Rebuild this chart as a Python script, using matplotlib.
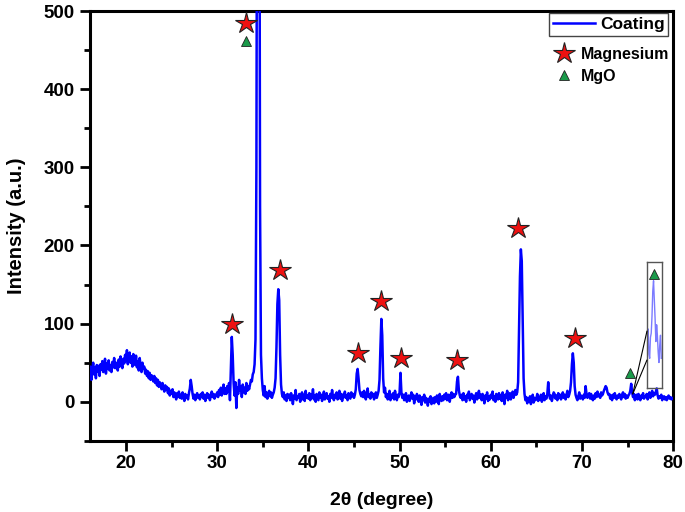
"""
XRD pattern of the coating - Mg / MgO peaks
"""
import numpy as np
import matplotlib
matplotlib.use('Agg')
import matplotlib.pyplot as plt
from matplotlib.lines import Line2D
from matplotlib.patches import ConnectionPatch

plt.rcParams['font.family'] = ['Liberation Sans', 'DejaVu Sans']

# 2theta grid of the scan (0.1 deg step), intensities
two_theta = np.linspace(16, 80, 641)
intensity = [
    32, 45, 28, 40, 50, 35, 44, 30, 47, 39,        # 16
    46, 33, 48, 41, 52, 38, 45, 55, 36, 49,        # 17
    42, 53, 40, 47, 38, 51, 44, 56, 43, 50,        # 18
    47, 40, 54, 45, 58, 48, 43, 55, 49, 60,        # 19
    52, 66, 48, 57, 63, 50, 58, 45, 61, 53,        # 20
    47, 59, 44, 52, 40, 56, 46, 38, 50, 42,        # 21
    45, 36, 41, 33, 39, 30, 37, 28, 34, 31,        # 22
    26, 33, 24, 30, 21, 28, 19, 25, 22, 16,        # 23
    24, 18, 13, 21, 15, 19, 11, 17, 8, 14,         # 24
    10, 16, 6, 12, 9, 3, 11, 7, 13, 5,             # 25
    9, 4, 12, 6, 1, 10, 5, 8, 3, 11,               # 26
    17, 28, 20, 10, 4, 9, 2, 7, 11, 5,             # 27
    8, 3, 10, 6, 12, 4, 9, 1, 7, 11,               # 28
    5, 9, 2, 8, 13, 6, 10, 4, 9, 7,                # 29
    12, 6, 15, 9, 18, 8, 14, 22, 10, 17,           # 30
    10, 20, 13, 24, 2, 45, 83, 60, 24, 8,          # 31
    25, -8, 18, 10, 28, 14, 20, 6, 22, 12,         # 32
    18, 10, 24, 14, 20, 16, 22, 28, 26, 35,        # 33
    38, 48, 80, 300, 900, 1200, 900, 250, 60, 30,  # 34
    15, 8, 20, 6, 12, 4, 10, 14, 7, 12,            # 35
    5, 9, 12, 18, 30, 70, 125, 144, 130, 60,       # 36
    22, 10, 6, 12, 3, 8, 1, 10, 5, 9,              # 37
    2, 11, 6, -3, 8, 4, 15, 2, 7, 5,               # 38
    10, 0, 6, 12, 3, 9, 1, 14, 5, 8,               # 39
    4, 11, 2, 9, 5, 16, 3, 8, 0, 10,               # 40
    6, 2, 12, 5, 9, 1, 7, 13, 3, 8,                # 41
    11, 4, 7, 0, 10, 5, 15, 6, 2, 9,               # 42
    5, 12, 3, 8, 14, 4, 10, 1, 9, 6,               # 43
    13, 5, 8, 2, 11, 6, 4, 12, 7, 10,              # 44
    5, 9, 16, 36, 42, 30, 15, 10, 7, 12,           # 45
    6, 14, 8, 3, 11, 17, 6, 9, 4, 12,              # 46
    7, 10, 3, 8, 12, 5, 9, 14, 28, 70,             # 47
    106, 85, 30, 12, 18, 6, 10, 3, 8, 14,          # 48
    2, 9, 5, 11, 3, 14, 7, 2, 9, 6,                # 49
    12, 37, 12, 5, 9, 2, 7, 11, 0, 6,              # 50
    8, 1, 6, 12, 4, 9, -2, 7, 3, 10,               # 51
    5, 0, 8, 3, -4, 6, 2, 9, -1, 5,                # 52
    3, -5, 4, 0, 7, -3, 2, 5, -2, 6,               # 53
    0, 8, 3, -3, 10, 4, 1, 7, 2, 9,                # 54
    4, 11, 2, 6, 9, 0, 7, 12, 5, 10,               # 55
    6, 9, 10, 26, 32, 15, 8, 5, 9, 2,              # 56
    11, 3, 7, 0, 9, 5, 13, 2, 6, 10,               # 57
    4, 8, -1, 6, 11, 3, 7, 14, 5, 9,               # 58
    2, 10, 6, -2, 8, 4, 12, 1, 7, 3,               # 59
    9, 5, 13, 2, 7, 0, 10, 6, 3, 11,               # 60
    4, 8, 1, 12, 6, -3, 9, 5, 14, 2,               # 61
    7, 11, 3, 8, 13, 5, 10, 15, 9, 12,             # 62
    25, 90, 160, 195, 180, 105, 30, 10, 2, 6,      # 63
    -2, 4, 0, 7, -3, 3, 9, -1, 5, 2,               # 64
    4, 10, 1, 6, 3, 9, 0, 5, 11, 2,                # 65
    7, 4, 10, 25, 9, 4, 8, 1, 6, 12,               # 66
    10, 4, 8, 2, 11, 5, 9, 3, 7, 12,               # 67
    5, 9, 3, 8, 14, 6, 9, 14, 25, 48,              # 68
    62, 50, 20, 9, 5, 2, 7, 12, 4, 8,              # 69
    6, 3, 9, 5, 20, 10, 5, 8, 11, 4,               # 70
    10, 5, 2, 8, 4, 11, 6, 13, 7, 9,               # 71
    5, 12, 8, 10, 14, 17, 20, 18, 12, 9,           # 72
    10, 4, 8, 2, 9, 5, 11, 6, 3, 8,                # 73
    5, 10, 7, 3, 9, 12, 6, 10, 4, 8,               # 74
    5, 8, 10, 14, 23, 12, 6, 10, 2, 8,             # 75
    9, 3, 10, 6, 2, 8, 5, 11, 4, 7,                # 76
    6, 10, 3, 8, 12, 5, 9, 14, 7, 11,              # 77
    9, 13, 17, 8, 4, 7, 5, 9, 2, 6,                # 78
    7, 3, 6, 2, 5, 8, 4, 6, 3, 5,                  # 79
    4,                                             # 80
]

# phase markers
mg_pos = [31.63, 33.16, 36.89, 45.44, 47.96, 50.16, 56.3, 62.98, 69.2]
mg_height = [100, 485, 168, 63, 129, 56, 54, 222, 82]
mgo_pos = [33.16, 75.27, 77.9]
mgo_height = [461, 37, 164]

# magnified region shown in the small box (around the 75 deg MgO peak)
inset_theta = [75.30, 75.32, 75.34, 75.36, 75.38, 75.40, 75.42, 75.44, 75.46, 75.48,
               75.50, 75.52, 75.54, 75.56, 75.58, 75.60, 75.62, 75.64, 75.66]
inset_counts = [11, 14, 8, 7, 12, 13, 17, 23, 25.5, 21,
                16.5, 11, 15, 12.5, 8.5, 6, 10, 12.5, 7]

fig = plt.figure(figsize=(6.85, 5.12), dpi=100)
ax = fig.add_axes([0.1307, 0.139, 0.852, 0.8395])

ax.plot(two_theta, intensity, color='#0000ff', lw=1.8, label='Coating', zorder=3)

ax.plot(mg_pos, mg_height, ls='none', marker='*', ms=16, mfc='#ee1111',
        mec='#222222', mew=0.8, zorder=6)
ax.plot(mgo_pos, mgo_height, ls='none', marker='^', ms=6.5, mfc='#1a9a4a',
        mec='#222222', mew=0.6, zorder=6)

ax.set_xlim(16, 80)
ax.set_ylim(-50, 500)
ax.set_xticks(range(20, 81, 10))
ax.set_xticks(range(25, 80, 10), minor=True)
ax.set_yticks(range(0, 501, 100))
ax.set_yticks(range(-50, 500, 100), minor=True)
ax.tick_params(which='major', direction='out', length=7, width=2, labelsize=13.5)
ax.tick_params(which='minor', direction='out', length=4, width=2)
for lab in ax.get_xticklabels() + ax.get_yticklabels():
    lab.set_fontweight('bold')
for sp in ax.spines.values():
    sp.set_linewidth(2.2)

ax.set_xlabel('2\u03b8 (degree)', fontsize=14, fontweight='bold', labelpad=14)
ax.set_ylabel('Intensity (a.u.)', fontsize=14.5, fontweight='bold', labelpad=13)

# small zoom box
axin = ax.inset_axes([77.13, 18, 1.65, 161], transform=ax.transData)
axin.plot(inset_theta, inset_counts, color='#5a5aff', lw=1.0, alpha=0.8)
axin.set_xlim(inset_theta[0] - 0.01, inset_theta[-1] + 0.02)
axin.set_ylim(0, 30)
axin.set_xticks([])
axin.set_yticks([])
axin.patch.set_alpha(0)
for sp in axin.spines.values():
    sp.set_linewidth(1.0)
    sp.set_edgecolor('#555555')

for yfrac in (0.45, 0.22):
    con = ConnectionPatch(xyA=(mgo_pos[1] + 0.3, 10), coordsA=ax.transData,
                          xyB=(0, yfrac), coordsB=axin.transAxes,
                          color='black', lw=0.8)
    fig.add_artist(con)

# legends
leg1 = ax.legend(loc='upper right', bbox_to_anchor=(0.992, 0.995), fancybox=False,
                 edgecolor='#444444', framealpha=1, handlelength=2.4,
                 prop={'weight': 'bold', 'size': 12.5}, borderpad=0.22,
                 handletextpad=0.3, borderaxespad=0)
leg1.get_frame().set_linewidth(1.0)
ax.add_artist(leg1)

marker_handles = [
    Line2D([], [], ls='none', marker='*', ms=16, mfc='#ee1111', mec='#222222', mew=0.8),
    Line2D([], [], ls='none', marker='^', ms=6.5, mfc='#1a9a4a', mec='#222222', mew=0.6),
]
ax.legend(marker_handles, ['Magnesium', 'MgO'], loc='upper left',
          bbox_to_anchor=(0.772, 0.95), frameon=False, handlelength=1.2,
          handletextpad=0.45, labelspacing=0.45,
          prop={'weight': 'bold', 'size': 11.5})

fig.savefig('out.png', dpi=100)
